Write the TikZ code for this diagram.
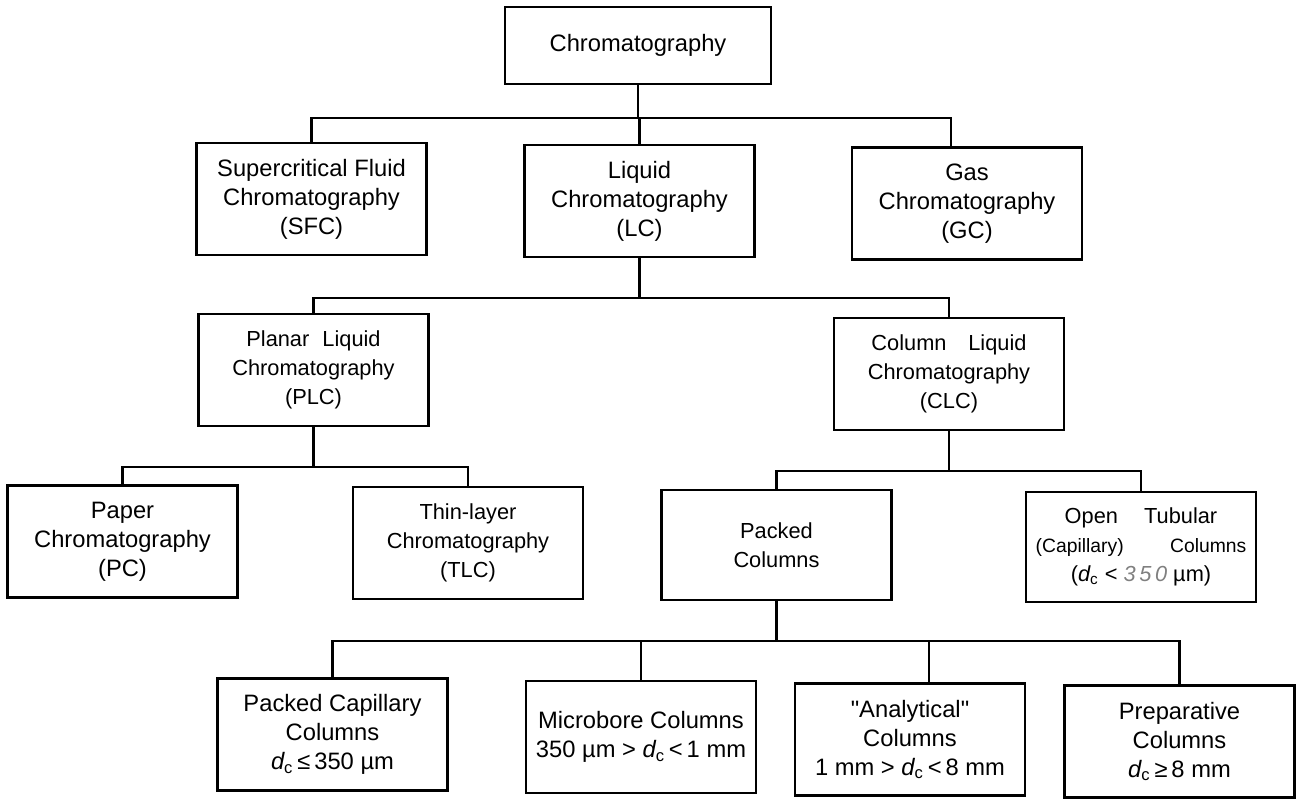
\documentclass[tikz,border=0pt]{standalone}
\usepackage{fontspec}
\setmainfont{Liberation Sans}
\newfontfamily\straight{Liberation Sans}[Ligatures=TeXOff]
\newcommand{\dc}{{\itshape d}\textsubscript{c}}
\newcommand{\qmark}{{\straight"}}

\begin{document}
\begin{tikzpicture}[x=2cm, y=-2cm,
    main/.style={draw, line width=1.5pt, align=center, inner sep=0pt, minimum width=4.6cm, minimum height=2.24cm, font=\fontsize{13.5}{16.5}\selectfont},
    top/.style={main, minimum width=5.32cm, minimum height=1.54cm},
    narrow/.style={main, font=\fontsize{12.4}{16.5}\selectfont},
    link/.style={line width=1.3pt}]

    \useasboundingbox (0,0) rectangle (12.97,8.01);

    \node[top]  (chrom)  at (6.38,0.455)  {Chromatography};

    \node[main] (sfc)    at (3.115,1.99)  {Supercritical Fluid\\Chromatography\\(SFC)};
    \node[main] (lc)     at (6.395,2.01)  {Liquid\\Chromatography\\(LC)};
    \node[main] (gc)     at (9.67,2.035)  {Gas\\Chromatography\\(GC)};

    \node[narrow] (plc)  at (3.135,3.70)  {Planar\hspace{0.6em}Liquid\\Chromatography\\(PLC)};
    \node[narrow] (clc)  at (9.49,3.74)   {Column\hspace{1em}Liquid\\Chromatography\\(CLC)};

    \node[main] (pc)     at (1.225,5.415) {Paper\\Chromatography\\(PC)};
    \node[narrow] (tlc)  at (4.68,5.43)   {Thin-layer\\Chromatography\\(TLC)};
    \node[narrow, minimum height=2.2cm] (packed) at (7.765,5.45) {Packed\\Columns};
    \node[narrow, minimum height=2.2cm] (otc)    at (11.41,5.47) {Open\hspace{1.2em}Tubular\\{\fontsize{11}{16.5}\selectfont(Capillary)\hspace{2.4em}Columns}\\(\dc\ < {\color{gray}\itshape 3\,5\,0}\ µm)};

    \node[main] (pcap)   at (3.325,7.345) {Packed Capillary\\Columns\\\dc\,≤\,350 µm};
    \node[main] (micro)  at (6.41,7.37)   {Microbore Columns\\350 µm > \dc\,<\,1 mm};
    \node[main] (analyt) at (9.10,7.395)  {\qmark Analytical\qmark\\Columns\\1 mm > \dc\,<\,8 mm};
    \node[main] (prep)   at (11.795,7.415) {Preparative\\Columns\\\dc\,≥\,8 mm};

    \draw[link] (chrom.south) -- ++(0,0.33) -| (sfc.north);
    \draw[link] (chrom.south) -- ++(0,0.33) -| (lc.north);
    \draw[link] (chrom.south) -- ++(0,0.33) -| ([xshift=-0.32cm]gc.north);

    \draw[link] (lc.south) -- ++(0,0.40) -| (plc.north);
    \draw[link] (lc.south) -- ++(0,0.40) -| (clc.north);

    \draw[link] (plc.south) -- ++(0,0.40) -| (pc.north);
    \draw[link] (plc.south) -- ++(0,0.40) -| (tlc.north);

    \draw[link] (clc.south) -- ++(0,0.40) -| (packed.north);
    \draw[link] (clc.south) -- ++(0,0.40) -| (otc.north);

    \draw[link] (packed.south) -- ++(0,0.40) -| (pcap.north);
    \draw[link] (packed.south) -- ++(0,0.40) -| (micro.north);
    \draw[link] (packed.south) -- ++(0,0.40) -| ([xshift=0.38cm]analyt.north);
    \draw[link] (packed.south) -- ++(0,0.40) -| (prep.north);
\end{tikzpicture}
\end{document}
